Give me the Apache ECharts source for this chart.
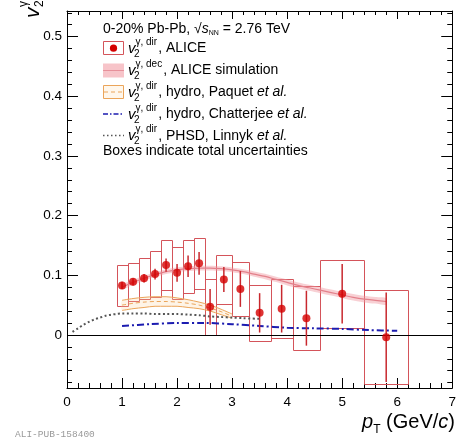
<!DOCTYPE html>
<html>
<head>
<meta charset="utf-8">
<script src="https://cdn.jsdelivr.net/npm/echarts@6/dist/echarts.min.js"></script>
<style>
html, body { margin: 0; padding: 0; background: #fff; }
#chart { width: 459px; height: 440px; }
</style>
</head>
<body>
<div id="chart"></div>
<script>
// Direct-photon v2, 0-20% Pb-Pb: pT bins, central values, stat and total uncertainties
const binLo   = [0.9, 1.1, 1.3, 1.5, 1.7, 1.9, 2.1, 2.3, 2.5, 2.7, 3.0, 3.3, 3.7, 4.1, 4.6, 5.4];
const binHi   = [1.1, 1.3, 1.5, 1.7, 1.9, 2.1, 2.3, 2.5, 2.7, 3.0, 3.3, 3.7, 4.1, 4.6, 5.4, 6.2];
const ptPoint = [1.0, 1.2, 1.4, 1.6, 1.8, 2.0, 2.2, 2.4, 2.6, 2.85, 3.15, 3.5, 3.9, 4.35, 5.0, 5.8];
const v2Dir   = [0.083, 0.089, 0.095, 0.102, 0.117, 0.104, 0.115, 0.120, 0.047, 0.093, 0.077, 0.037, 0.044, 0.028, 0.069, -0.004];
const statErr = [0.006, 0.006, 0.007, 0.009, 0.011, 0.015, 0.018, 0.019, 0.030, 0.021, 0.030, 0.033, 0.040, 0.046, 0.050, 0.075];
const sysErr  = [0.035, 0.032, 0.034, 0.039, 0.042, 0.044, 0.044, 0.043, 0.047, 0.041, 0.046, 0.047, 0.050, 0.054, 0.057, 0.079];

// Decay-photon v2 simulation band
const simPt   = [1.0, 1.2, 1.4, 1.6, 1.8, 2.0, 2.2, 2.4, 2.6, 2.8, 3.0, 3.2, 3.4, 3.6, 3.8, 4.0, 4.2, 4.4, 4.6, 4.8, 5.0, 5.2, 5.4, 5.6, 5.8];
const simV2   = [0.080, 0.088, 0.095, 0.101, 0.106, 0.109, 0.111, 0.112, 0.112, 0.111, 0.109, 0.106, 0.102, 0.098, 0.093, 0.088, 0.083, 0.079, 0.075, 0.071, 0.067, 0.063, 0.060, 0.058, 0.056];
const simHalf = [0.004, 0.004, 0.004, 0.004, 0.004, 0.004, 0.004, 0.004, 0.004, 0.004, 0.004, 0.004, 0.0045, 0.0045, 0.0045, 0.005, 0.005, 0.005, 0.005, 0.005, 0.005, 0.0055, 0.0055, 0.0055, 0.0055];

// Hydro, Paquet et al.
const paquetPt  = [1.0, 1.2, 1.4, 1.6, 1.8, 2.0, 2.2, 2.4, 2.6, 2.8, 3.0];
const paquetHi  = [0.058, 0.061, 0.063, 0.064, 0.064, 0.062, 0.059, 0.055, 0.050, 0.043, 0.035];
const paquetMid = [0.050, 0.053, 0.055, 0.056, 0.056, 0.055, 0.053, 0.050, 0.045, 0.039, 0.031];
const paquetLo  = [0.041, 0.044, 0.046, 0.048, 0.048, 0.048, 0.046, 0.044, 0.040, 0.034, 0.028];

// Hydro, Chatterjee et al.
const chatPt = [1.0, 1.5, 2.0, 2.5, 3.0, 3.5, 4.0, 4.5, 5.0, 5.5, 6.0];
const chatV2 = [0.015, 0.018, 0.020, 0.020, 0.018, 0.015, 0.012, 0.011, 0.010, 0.008, 0.007];

// PHSD, Linnyk et al.
const phsdPt = [0.1, 0.2, 0.3, 0.4, 0.5, 0.6, 0.7, 0.8, 0.9, 1.0, 1.2, 1.4, 1.6, 1.8, 2.0, 2.2, 2.4, 2.6, 2.8, 3.0, 3.2, 3.5];
const phsdV2 = [0.005, 0.011, 0.017, 0.022, 0.026, 0.029, 0.032, 0.034, 0.035, 0.036, 0.036, 0.036, 0.035, 0.035, 0.035, 0.034, 0.033, 0.031, 0.030, 0.029, 0.028, 0.027];

// Axis ranges and tick values
const xRange = [0, 7];
const yRange = [-0.089, 0.543];
const yMajorTicks = [0, 0.1, 0.2, 0.3, 0.4, 0.5];
const yMinorTicks = [-0.08, -0.06, -0.04, -0.02, 0, 0.02, 0.04, 0.06, 0.08, 0.10, 0.12, 0.14, 0.16, 0.18, 0.20,
                     0.22, 0.24, 0.26, 0.28, 0.30, 0.32, 0.34, 0.36, 0.38, 0.40, 0.42, 0.44, 0.46, 0.48, 0.50, 0.52, 0.54];

const FONT = 'Liberation Sans';
const RED = '#d40000';
const BOX_RED = '#d4545a';
const BAR_RED = '#c8282e';
const ORANGE = '#eba55a';
const BLUE = '#1c1cb0';
const GREY = '#555555';

const mctx = document.createElement('canvas').getContext('2d');
function textWidth(str, size, italic) {
  mctx.font = (italic ? 'italic ' : '') + size + 'px "' + FONT + '"';
  return mctx.measureText(str).width;
}
function label(str, x, y, size, italic, extra) {
  const s = {
    text: str, x: 0, y: 0,
    fontSize: size, fontFamily: FONT, fontStyle: italic ? 'italic' : 'normal',
    fill: '#000', align: 'left', verticalAlign: 'middle',
    textAlign: 'left', textVerticalAlign: 'middle'
  };
  Object.assign(s, extra || {});
  return { type: 'text', x: x, y: y, style: s, z: 100 };
}

// ---- legend block ----
const graphics = [];
const LX = 103;     // symbol column
const TX = 128;     // text column
(function header() {
  let x = LX;
  const y = 29.3;
  const a = '0-20% Pb-Pb, ';
  graphics.push(label(a, x, y, 14, false)); x += textWidth(a, 14, false);
  graphics.push(label('\u221A', x, y, 14, false)); x += textWidth('\u221A', 14, false);
  graphics.push(label('s', x, y, 14, true)); x += textWidth('s', 14, true);
  graphics.push(label('NN', x, y + 4, 7, false)); x += textWidth('NN', 7, false);
  graphics.push(label(' = 2.76 TeV', x, y, 14, false));
})();

const legendRows = [
  { y: 48.3,  sup: '\u03B3, dir', rest: ', ALICE', ital: '' },
  { y: 70.3,  sup: '\u03B3, dec', rest: ', ALICE simulation', ital: '' },
  { y: 92.0,  sup: '\u03B3, dir', rest: ', hydro, Paquet ', ital: 'et al.' },
  { y: 114.3, sup: '\u03B3, dir', rest: ', hydro, Chatterjee ', ital: 'et al.' },
  { y: 135.7, sup: '\u03B3, dir', rest: ', PHSD, Linnyk ', ital: 'et al.' }
];
legendRows.forEach(function (r) {
  graphics.push(label('v', TX, r.y + 0.5, 15, true));
  const vw = textWidth('v', 15, true);
  graphics.push(label('2', TX + vw - 1.5, r.y + 6, 10, false));
  graphics.push(label(r.sup, TX + vw, r.y - 6, 10, false));
  let x = TX + vw + textWidth(r.sup, 10, false) + 1;
  graphics.push(label(r.rest, x, r.y, 14, false));
  x += textWidth(r.rest, 14, false);
  if (r.ital) graphics.push(label(r.ital, x, r.y, 14, true));
});
graphics.push(label('Boxes indicate total uncertainties', LX, 151, 14, false));

// legend symbols
graphics.push({ type: 'rect', z: 100, shape: { x: LX + 0.5, y: 41.5, width: 20, height: 13 },
  style: { fill: 'none', stroke: BOX_RED, lineWidth: 1 } });
graphics.push({ type: 'circle', z: 101, shape: { cx: LX + 10.5, cy: 48.2, r: 3.6 }, style: { fill: RED } });
graphics.push({ type: 'rect', z: 100, shape: { x: LX, y: 63.5, width: 21, height: 14 },
  style: { fill: '#f7c4c9' } });
graphics.push({ type: 'line', z: 101, shape: { x1: LX, y1: 70.5, x2: LX + 21, y2: 70.5 },
  style: { stroke: '#e7909a', lineWidth: 1 } });
graphics.push({ type: 'rect', z: 100, shape: { x: LX + 0.5, y: 85.5, width: 20, height: 13 },
  style: { fill: '#fff7ec', stroke: ORANGE, lineWidth: 1 } });
graphics.push({ type: 'line', z: 101, shape: { x1: LX + 1, y1: 92, x2: LX + 20, y2: 92 },
  style: { stroke: ORANGE, lineWidth: 1, lineDash: [4, 3] } });
graphics.push({ type: 'line', z: 100, shape: { x1: LX, y1: 114, x2: LX + 21, y2: 114 },
  style: { stroke: BLUE, lineWidth: 1.5, lineDash: [5, 2, 1.5, 2] } });
graphics.push({ type: 'line', z: 100, shape: { x1: LX, y1: 135.5, x2: LX + 21, y2: 135.5 },
  style: { stroke: GREY, lineWidth: 1.5, lineDash: [1.5, 2.5] } });

// ---- axis titles ----
(function yTitle() {
  graphics.push({
    type: 'group', x: 33, y: 18, rotation: Math.PI / 2, z: 100,
    children: [
      label('v', 0, 0, 21, true),
      label('2', 11, 7, 12, false),
      label('\u03B3', 11, -9, 12, false)
    ]
  });
})();
(function xTitle() {
  const parts = [
    { t: 'p', s: 20, i: true, dy: 0 },
    { t: 'T', s: 12, i: false, dy: 8 },
    { t: ' (GeV/', s: 20, i: false, dy: 0 },
    { t: 'c', s: 20, i: true, dy: 0 },
    { t: ')', s: 20, i: false, dy: 0 }
  ];
  let total = 0;
  parts.forEach(function (p) { total += textWidth(p.t, p.s, p.i); });
  let x = 455 - total;
  parts.forEach(function (p) {
    graphics.push(label(p.t, x, 422 + p.dy, p.s, p.i));
    x += textWidth(p.t, p.s, p.i);
  });
})();
graphics.push(label('ALI-PUB-158400', 15, 434, 9.5, false, { fontFamily: 'Liberation Mono', fill: '#9a9a9a' }));

// ---- axes ----
function xAxisDef(pos, showLabels, majorLen, minorLen) {
  return {
    type: 'value', position: pos, min: xRange[0], max: xRange[1], interval: 1,
    axisLine: { show: true, onZero: false, lineStyle: { color: '#000', width: 1 } },
    axisTick: { show: true, inside: true, length: majorLen, lineStyle: { color: '#000', width: 1 } },
    minorTick: { show: true, splitNumber: 5, length: minorLen, lineStyle: { color: '#000', width: 1 } },
    splitLine: { show: false },
    axisLabel: { show: showLabels, color: '#000', fontSize: 13.5, fontFamily: FONT, margin: 7 }
  };
}
function yAxisDef(pos, ticks, len, showLine, showLabels) {
  return {
    type: 'value', position: pos, min: yRange[0], max: yRange[1],
    axisLine: { show: showLine, onZero: false, lineStyle: { color: '#000', width: 1 } },
    axisTick: { show: true, inside: true, length: len, customValues: ticks, lineStyle: { color: '#000', width: 1 } },
    splitLine: { show: false },
    axisLabel: {
      show: showLabels, customValues: yMajorTicks, color: '#000', fontSize: 13.5, fontFamily: FONT, margin: 5,
      formatter: function (v) { return Math.abs(v) < 1e-9 ? '0' : v.toFixed(1); }
    }
  };
}

// ---- series ----
const boxData = binLo.map(function (lo, i) {
  return [lo, binHi[i], v2Dir[i] - sysErr[i], v2Dir[i] + sysErr[i]];
});
const barData = ptPoint.map(function (x, i) {
  return [x, v2Dir[i] - statErr[i], v2Dir[i] + statErr[i]];
});
const pointData = ptPoint.map(function (x, i) { return [x, v2Dir[i]]; });

function bandSeries(xs, lo, hi, fill, z) {
  return {
    type: 'custom', z: z, silent: true, clip: true,
    data: [[xs[0], lo[0]]],
    renderItem: function (params, api) {
      const pts = [];
      for (let i = 0; i < xs.length; i++) pts.push(api.coord([xs[i], hi[i]]));
      for (let i = xs.length - 1; i >= 0; i--) pts.push(api.coord([xs[i], lo[i]]));
      return { type: 'polygon', shape: { points: pts, smooth: 0.3 }, style: { fill: fill } };
    }
  };
}
function curve(xs, ys, color, width, type, z) {
  return {
    type: 'line', z: z, silent: true, symbol: 'none', smooth: 0.3,
    data: xs.map(function (x, i) { return [x, ys[i]]; }),
    lineStyle: { color: color, width: width, type: type }
  };
}

const simLo = simV2.map(function (v, i) { return v - simHalf[i]; });
const simHi = simV2.map(function (v, i) { return v + simHalf[i]; });

const option = {
  animation: false,
  backgroundColor: '#fff',
  grid: { left: 67, right: 4, top: 11, bottom: 52, containLabel: false },
  xAxis: [xAxisDef('bottom', true, 10, 5), xAxisDef('top', false, 8, 4)],
  yAxis: [
    yAxisDef('left', yMinorTicks, 5, true, true),
    yAxisDef('left', yMajorTicks, 11, false, false),
    yAxisDef('right', yMinorTicks, 5, true, false),
    yAxisDef('right', yMajorTicks, 11, false, false)
  ],
  graphic: { elements: graphics },
  series: [
    // zero reference line
    {
      type: 'line', z: 1, silent: true, symbol: 'none', data: [],
      markLine: {
        silent: true, symbol: 'none', label: { show: false },
        lineStyle: { color: '#000', width: 1, type: 'solid' },
        data: [{ yAxis: 0 }]
      }
    },
    // total-uncertainty boxes
    {
      type: 'custom', z: 3, silent: true, clip: true,
      data: boxData,
      renderItem: function (params, api) {
        const a = api.coord([api.value(0), api.value(3)]);
        const b = api.coord([api.value(1), api.value(2)]);
        return {
          type: 'rect',
          shape: { x: Math.round(a[0]) + 0.5, y: Math.round(a[1]) + 0.5,
                   width: Math.round(b[0]) - Math.round(a[0]), height: Math.round(b[1]) - Math.round(a[1]) },
          style: { fill: 'none', stroke: BOX_RED, lineWidth: 1 }
        };
      }
    },
    // decay-photon simulation
    bandSeries(simPt, simLo, simHi, 'rgba(240,150,160,0.45)', 4),
    curve(simPt, simV2, '#e3808b', 1.2, 'solid', 5),
    // Paquet hydro band
    bandSeries(paquetPt, paquetLo, paquetHi, 'rgba(250,210,160,0.25)', 4),
    curve(paquetPt, paquetHi, ORANGE, 1, 'solid', 5),
    curve(paquetPt, paquetLo, ORANGE, 1, 'solid', 5),
    curve(paquetPt, paquetMid, ORANGE, 1, [4, 3], 5),
    // Chatterjee hydro
    curve(chatPt, chatV2, BLUE, 2, [7, 3, 2, 3], 6),
    // PHSD
    curve(phsdPt, phsdV2, GREY, 2, [2, 2.5], 6),
    // statistical error bars
    {
      type: 'custom', z: 7, silent: true, clip: true,
      data: barData,
      renderItem: function (params, api) {
        const a = api.coord([api.value(0), api.value(1)]);
        const b = api.coord([api.value(0), api.value(2)]);
        return { type: 'line', shape: { x1: a[0], y1: a[1], x2: b[0], y2: b[1] },
                 style: { stroke: BAR_RED, lineWidth: 1.5 } };
      }
    },
    // measured points
    {
      type: 'scatter', z: 8, silent: true, symbol: 'circle', symbolSize: 8,
      data: pointData, itemStyle: { color: RED }
    }
  ]
};

const chart = echarts.init(document.getElementById('chart'), null, { renderer: 'canvas' });
chart.setOption(option);
</script>
</body>
</html>
